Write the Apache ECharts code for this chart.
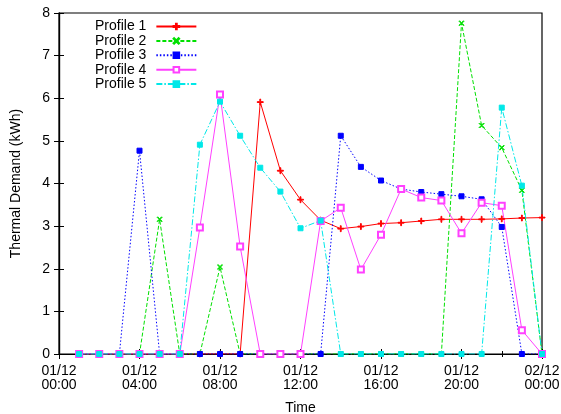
<!DOCTYPE html>
<html>
<head>
<meta charset="utf-8">
<script src="https://cdn.jsdelivr.net/npm/echarts@6/dist/echarts.min.js"></script>
<style>html,body{margin:0;padding:0;background:#fff}#c{width:561px;height:414px}</style>
</head>
<body>
<div id="c"></div>
<script>
const hours = [1,2,3,4,5,6,7,8,9,10,11,12,13,14,15,16,17,18,19,20,21,22,23,24];
const tickLabels = ['01/12\n00:00','01/12\n04:00','01/12\n08:00','01/12\n12:00','01/12\n16:00','01/12\n20:00','02/12\n00:00'];
const profile1 = [0,0,0,0,0,0,0,0,0,5.91,4.30,3.62,3.14,2.94,2.99,3.06,3.08,3.12,3.16,3.16,3.16,3.17,3.19,3.20];
const profile2 = [0,0,0,0,3.16,0,0,2.04,0,0,0,0,0,0,0,0,0,0,0,7.76,5.36,4.84,3.84,0];
const profile3 = [0,0,0,4.77,0,0,0,0,0,0,0,0,0,5.12,4.39,4.07,3.87,3.80,3.75,3.70,3.63,2.98,0,0];
const profile4 = [0,0,0,0,0,0,2.97,6.09,2.52,0,0,0,3.12,3.43,1.98,2.80,3.87,3.67,3.60,2.83,3.55,3.48,0.56,0];
const profile5 = [0,0,0,0,0,0,4.91,5.92,5.12,4.37,3.81,2.95,3.13,0,0,0,0,0,0,0,0,5.78,3.95,0];
const names = ['Profile 1','Profile 2','Profile 3','Profile 4','Profile 5'];

const plusSym = 'path://M4.3,0H5.7V4.3H10V5.7H5.7V10H4.3V5.7H0V4.3H4.3Z';
const crossSym = 'path://M1,0L5,4L9,0L10,1L6,5L10,9L9,10L5,6L1,10L0,9L4,5L0,1Z';

function pairs(vals){ return hours.map((h,i)=>[h, vals[i]]); }

const styles = [
  {color:'#ff0000', type:'solid', symbol: plusSym, size:6},
  {color:'#00e000', type:[4,2], symbol: crossSym, size:5},
  {color:'#0000ff', type:[1.5,2], symbol:'rect', size:5},
  {color:'#ff40ff', type:'solid', symbol:'emptyRect', size:6},
  {color:'#00e8e8', type:[6,2,1.5,2], symbol:'rect', size:5}
];
const data = [profile1, profile2, profile3, profile4, profile5];

const series = data.map((vals,i)=>({
  name: names[i],
  type: 'line',
  data: pairs(vals),
  symbol: styles[i].symbol,
  symbolSize: styles[i].size,
  showAllSymbol: true,
  lineStyle: {color: styles[i].color, width: 1, type: styles[i].type},
  itemStyle: {color: styles[i].color, borderColor: styles[i].color, borderWidth: 1},
  animation: false
}));

const font = 'Liberation Sans, Arial, Helvetica, sans-serif';
const chart = echarts.init(document.getElementById('c'));
chart.setOption({
  animation: false,
  textStyle: {fontFamily: font},
  grid: {left: 59, right: 19, top: 13, bottom: 60, show: true, borderColor: '#000', borderWidth: 1.2,
    backgroundColor: 'transparent', outerBoundsMode: 'none', containLabel: false},
  legend: {
    orient: 'vertical', left: 95, top: 19.5, align: 'right', padding: 0,
    itemWidth: 40, itemHeight: 7, itemGap: 0.4,
    textStyle: {fontFamily: font, fontSize: 14, color: '#000', lineHeight: 14, padding: [0, 5, 0, 0]},
    data: names
  },
  xAxis: [{
    type: 'value', min: 0, max: 24, interval: 4,
    name: 'Time', nameLocation: 'middle', nameGap: 47,
    nameTextStyle: {fontFamily: font, fontSize: 14, color: '#000'},
    axisLine: {show: true, lineStyle: {color: '#000', width: 1.2}},
    axisTick: {show: true, inside: true, length: 5, lineStyle: {color: '#000'}},
    minorTick: {show: true, splitNumber: 4, length: 3, lineStyle: {color: '#000'}},
    splitLine: {show: false},
    axisLabel: {fontFamily: font, fontSize: 14, color: '#000', margin: 10.5, lineHeight: 14,
      formatter: v => tickLabels[Math.round(v/4)]}
  },{
    type: 'value', min: 0, max: 24, interval: 4, position: 'top',
    axisLine: {show: true, lineStyle: {color: '#000', width: 1.2}},
    axisTick: {show: true, inside: true, length: 5, lineStyle: {color: '#000'}},
    minorTick: {show: true, splitNumber: 4, length: 3, lineStyle: {color: '#000'}},
    splitLine: {show: false}, axisLabel: {show: false}
  }],
  yAxis: [{
    type: 'value', min: 0, max: 8, interval: 1,
    name: 'Thermal Demand (kWh)', nameLocation: 'middle', nameGap: 36,
    nameTextStyle: {fontFamily: font, fontSize: 14, color: '#000'},
    axisLine: {show: true, lineStyle: {color: '#000', width: 1.2}},
    axisTick: {show: true, inside: true, length: 5, lineStyle: {color: '#000'}},
    splitLine: {show: false},
    axisLabel: {fontFamily: font, fontSize: 14, color: '#000', margin: 9}
  },{
    type: 'value', min: 0, max: 8, interval: 1, position: 'right',
    axisLine: {show: true, lineStyle: {color: '#000', width: 1.2}},
    axisTick: {show: true, inside: true, length: 5, lineStyle: {color: '#000'}},
    splitLine: {show: false}, axisLabel: {show: false}
  }],
  series: series
});
</script>
</body>
</html>
